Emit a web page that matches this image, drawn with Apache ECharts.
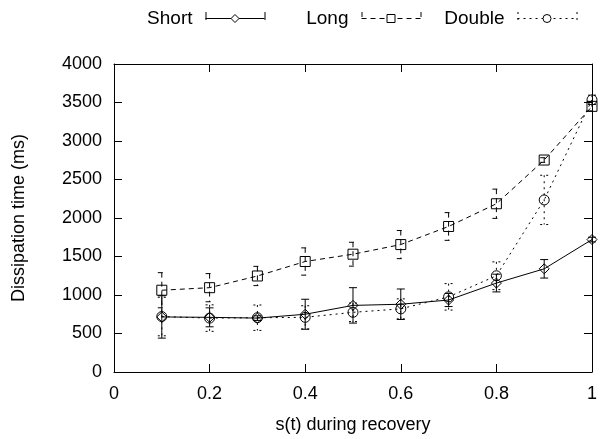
<!DOCTYPE html>
<html>
<head>
<meta charset="utf-8">
<script src="https://cdn.jsdelivr.net/npm/echarts@6/dist/echarts.min.js"></script>
<style>
html,body{margin:0;padding:0;background:#fff;}
#chart{width:600px;height:439px;}
</style>
</head>
<body>
<div id="chart"></div>
<script>
// ---- data ----
var sValues = [0.1, 0.2, 0.3, 0.4, 0.5, 0.6, 0.7, 0.8, 0.9, 1.0];
var shortMean = [715, 710, 700, 750, 865, 880, 935, 1155, 1340, 1720];
var shortErr  = [275, 123, 30, 195, 230, 198, 85, 115, 120, 30];
var longMean  = [1062, 1095, 1247, 1435, 1530, 1655, 1890, 2185, 2753, 3450];
var longErr   = [228, 183, 125, 177, 155, 183, 180, 190, 30, 60];
var doubleMean = [720, 700, 705, 710, 775, 820, 976, 1250, 2235, 3535];
var doubleErr  = [250, 172, 165, 150, 120, 130, 172, 180, 320, 60];
var seriesNames = ['Short', 'Long', 'Double'];
var yTicks = [0, 500, 1000, 1500, 2000, 2500, 3000, 3500, 4000];
var xTicks = [0, 0.2, 0.4, 0.6, 0.8, 1];

var FONT = 'Liberation Sans, Arial, Helvetica, sans-serif';
var FS = 18;
var dashes = { Short: null, Long: [5, 4], Double: [2, 4] };
var symbols = { Short: 'diamond', Long: 'rect', Double: 'circle' };

function pairs(means) { return sValues.map(function (x, i) { return [x, means[i]]; }); }
function triples(means, errs) { return sValues.map(function (x, i) { return [x, means[i], errs[i]]; }); }

function errRender(dash) {
  return function (params, api) {
    var x = api.value(0), m = api.value(1), e = api.value(2);
    var top = api.coord([x, m + e]), bot = api.coord([x, m - e]);
    var w = 4;
    var st = { stroke: '#000', lineWidth: 1, lineDash: dash || null, fill: null };
    return {
      type: 'group',
      children: [
        { type: 'line', shape: { x1: top[0], y1: top[1], x2: bot[0], y2: bot[1] }, style: st },
        { type: 'line', shape: { x1: top[0] - w, y1: top[1], x2: top[0] + w, y2: top[1] }, style: st },
        { type: 'line', shape: { x1: bot[0] - w, y1: bot[1], x2: bot[0] + w, y2: bot[1] }, style: st }
      ]
    };
  };
}

var means = { Short: shortMean, Long: longMean, Double: doubleMean };
var errs = { Short: shortErr, Long: longErr, Double: doubleErr };

var series = [];
seriesNames.forEach(function (n) {
  series.push({
    name: n + ' err', type: 'custom', clip: false, silent: true,
    renderItem: errRender(dashes[n]),
    data: triples(means[n], errs[n]), z: 2
  });
});
seriesNames.forEach(function (n) {
  series.push({
    name: n, type: 'line', clip: false, animation: false,
    data: pairs(means[n]),
    symbol: symbols[n], symbolSize: 10,
    lineStyle: { color: '#000', width: 1, type: dashes[n] || 'solid' },
    itemStyle: { color: 'rgba(255,255,255,0)', borderColor: '#000', borderWidth: 1 },
    z: 3
  });
});

var iconEnds = [265, 421, 577];
var ICON_W = 59, LEG_PAD = 5, LEG_CY = 16;
var legends = seriesNames.map(function (n, i) {
  return {
    right: 600 - iconEnds[i] - LEG_PAD, top: 4, align: 'right', padding: LEG_PAD,
    itemWidth: ICON_W, itemHeight: 10, selectedMode: false,
    data: [{ name: n, itemStyle: { color: '#fff', borderColor: '#000', borderWidth: 1 } }],
    lineStyle: { width: 1, color: '#000' },
    textStyle: { fontFamily: FONT, fontSize: 19, color: '#000', padding: [0, 8, 0, 0] }
  };
});

var axisCommonX = {
  type: 'value', min: 0, max: 1, interval: 0.2,
  axisLine: { show: true, onZero: false, lineStyle: { color: '#000', width: 1 } },
  axisTick: { show: true, inside: true, length: 8, lineStyle: { color: '#000' } },
  splitLine: { show: false }
};
var axisCommonY = {
  type: 'value', min: 0, max: 4000, interval: 500,
  axisLine: { show: true, onZero: false, lineStyle: { color: '#000', width: 1 } },
  axisTick: { show: true, inside: true, length: 8, lineStyle: { color: '#000' } },
  splitLine: { show: false }
};

var chart = echarts.init(document.getElementById('chart'), null, { renderer: 'canvas' });
chart.setOption({
  animation: false,
  backgroundColor: '#fff',
  legend: legends,
  grid: { left: 114, right: 4, top: 64, bottom: 65, containLabel: false },
  xAxis: [
    Object.assign({}, axisCommonX, {
      position: 'bottom',
      name: 's(t) during recovery', nameLocation: 'middle', nameGap: 44,
      nameTextStyle: { fontFamily: FONT, fontSize: FS, color: '#000' },
      axisLabel: { fontFamily: FONT, fontSize: FS, color: '#000', margin: 13,
        formatter: function (v) { return String(Math.round(v * 10) / 10); } }
    }),
    Object.assign({}, axisCommonX, { position: 'top', axisLabel: { show: false } })
  ],
  yAxis: [
    Object.assign({}, axisCommonY, {
      position: 'left',
      name: 'Dissipation time (ms)', nameLocation: 'middle', nameGap: 86,
      nameTextStyle: { fontFamily: FONT, fontSize: FS, color: '#000' },
      axisLabel: { fontFamily: FONT, fontSize: FS, color: '#000', margin: 12,
        formatter: function (v) { return String(v); } }
    }),
    Object.assign({}, axisCommonY, { position: 'right', axisLabel: { show: false } })
  ],
  series: series
});

// legend sample end caps (error-bar style), placed at the legend icon ends
var capGraphics = [];
iconEnds.forEach(function (xEnd, i) {
  var xStart = xEnd - ICON_W;
  var dash = dashes[seriesNames[i]];
  [xStart, xEnd].forEach(function (x) {
    capGraphics.push({ type: 'line', shape: { x1: x, y1: LEG_CY - 4, x2: x, y2: LEG_CY + 4 },
      style: { stroke: '#000', lineWidth: 1, lineDash: dash || null } });
  });
});
chart.setOption({ graphic: capGraphics });
</script>
</body>
</html>
